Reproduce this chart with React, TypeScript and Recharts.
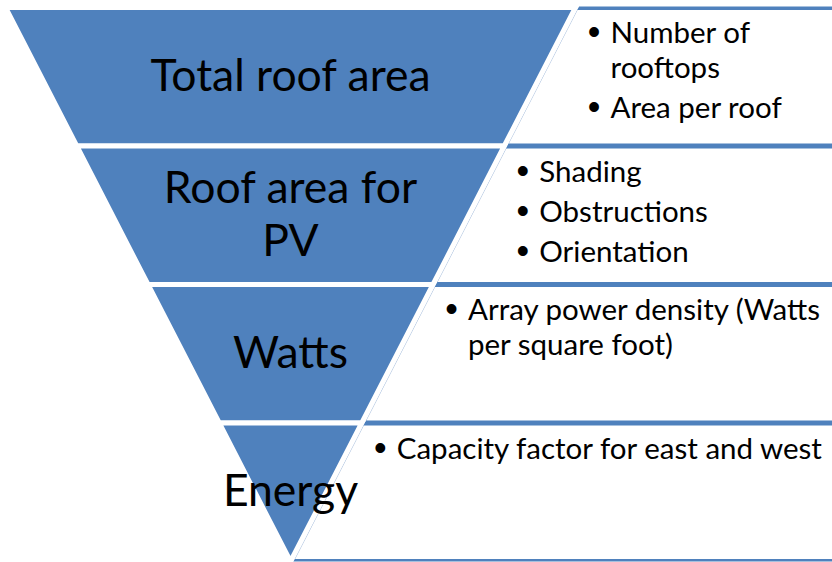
import React from 'react';
import { FunnelChart, Funnel } from 'recharts';

// ---- data ----
const stageNames = ['Total roof area', 'Roof area for PV', 'Watts', 'Energy'];
const stageValues = [4, 3, 2, 1];
const stageLabelLines = [['Total roof area'], ['Roof area for', 'PV'], ['Watts'], ['Energy']];
const stageBullets = [
  [['Number of', 'rooftops'], ['Area per roof']],
  [['Shading'], ['Obstructions'], ['Orientation']],
  [['Array power density (Watts', 'per square foot)']],
  [['Capacity factor for east and west']],
];

const BLUE = '#4F81BD';
const LIGHT = '#B4C8E2';
const FONT = 'Lato, "Open Sans", sans-serif';
const CHART_W = 832;
const CHART_H = 562;

const funnelData = stageNames.map((name, i) => ({
  name,
  value: stageValues[i],
  labelLines: stageLabelLines[i],
  bullets: stageBullets[i],
}));

const renderStage = (props: any) => {
  const { x, y, upperWidth, lowerWidth, height } = props;
  const p = props.payload || props;
  const labelLines: string[] = p.labelLines || [];
  const bullets: string[][] = p.bullets || [];

  const edge = (yy: number) => x + upperWidth - ((upperWidth - lowerWidth) / 2) * ((yy - y) / height);
  const diag = (yy: number) => edge(yy) + 3;
  const right = CHART_W;

  const topA = y - 1;
  const topB = y + 2.5;
  const botA = y + height - 2.5;
  const botB = y + height;

  const cx = x + upperWidth / 2;
  const cy = y + height / 2;

  const textX = diag(y) + 32;
  const bulletX = diag(y) + 15.5;
  const items: React.ReactNode[] = [];
  let baseline = y + 35.5;
  bullets.forEach((para, pi) => {
    para.forEach((line, li) => {
      if (li === 0) {
        items.push(
          <text key={`b${pi}`} x={bulletX} y={baseline + 1} textAnchor="middle" fontFamily='"Liberation Sans", Arial, sans-serif' fontSize={36} fill="#000">
            •
          </text>
        );
      }
      items.push(
        <text key={`t${pi}-${li}`} x={textX} y={baseline} fontFamily={FONT} fontSize={29.5} fill="#000">
          {line}
        </text>
      );
      baseline += li === para.length - 1 ? 40 : 35;
    });
  });

  const lx1 = x;
  const lx2 = x + upperWidth;
  const lx3 = x + (upperWidth + lowerWidth) / 2;
  const lx4 = x + (upperWidth - lowerWidth) / 2;

  return (
    <g>
      <polygon
        points={`${diag(y)},${y} ${right},${y} ${right},${y + height} ${diag(y + height)},${y + height}`}
        fill="#fff"
      />
      <line x1={diag(y)} y1={y} x2={diag(y + height)} y2={y + height} stroke={LIGHT} strokeWidth={1} />
      <polygon
        points={`${diag(topA)},${topA} ${right},${topA} ${right},${topB} ${diag(topB)},${topB}`}
        fill={BLUE}
      />
      <polygon
        points={`${diag(botA)},${botA} ${right},${botA} ${right},${botB} ${diag(botB)},${botB}`}
        fill={BLUE}
      />
      {items}
      <polygon
        points={`${lx1},${y} ${lx2},${y} ${lx3},${y + height} ${lx4},${y + height}`}
        fill={BLUE}
        stroke="#fff"
        strokeWidth={5}
        strokeLinejoin="miter"
      />
      {labelLines.map((ln, k) => (
        <text
          key={k}
          x={cx}
          y={cy + (k - (labelLines.length - 1) / 2) * 53 + 14}
          textAnchor="middle"
          fontFamily={FONT}
          fontSize={44.5}
          fill="#000"
        >
          {ln}
        </text>
      ))}
    </g>
  );
};

export default function App() {
  return (
    <div style={{ position: 'absolute', left: 0, top: 0, width: CHART_W, height: CHART_H, background: '#fff' }}>
      <FunnelChart width={CHART_W} height={CHART_H} margin={{ top: 7.5, right: 256.5, bottom: 0.5, left: 5.5 }}>
        <Funnel
          dataKey="value"
          data={funnelData}
          lastShapeType="triangle"
          isAnimationActive={false}
          shape={renderStage}
          fill={BLUE}
          stroke="#fff"
          strokeWidth={5}
        />
      </FunnelChart>
    </div>
  );
}
